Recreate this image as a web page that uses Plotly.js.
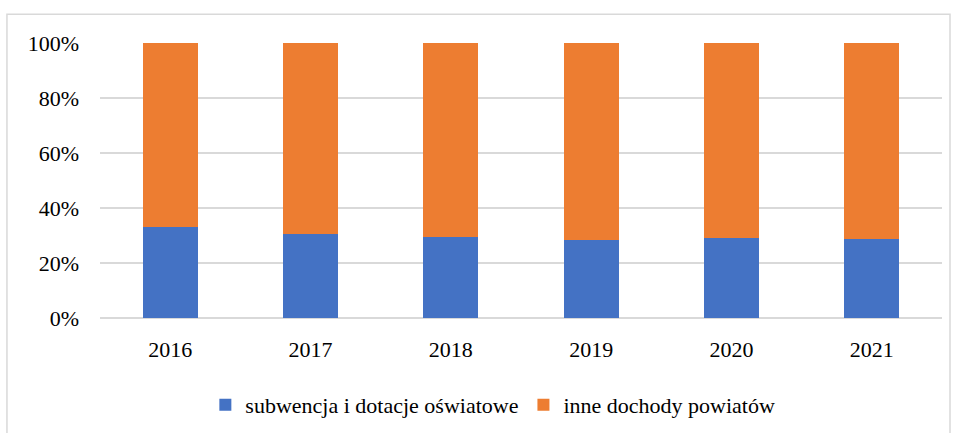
<!DOCTYPE html>
<html>
<head>
<meta charset="utf-8">
<script src="https://cdn.plot.ly/plotly-3.0.1.min.js"></script>
<style>
html,body{margin:0;padding:0;background:#fff;font-family:"Liberation Serif",serif;}
#chart{width:957px;height:433px;}
</style>
</head>
<body>
<div id="chart"></div>
<script>
const years = ["2016", "2017", "2018", "2019", "2020", "2021"];
const subwencja = [33.0, 30.6, 29.6, 28.3, 29.1, 28.8];
const inne = [67.0, 69.4, 70.4, 71.7, 70.9, 71.2];
const seriesNames = ["subwencja i dotacje oświatowe", "inne dochody powiatów"];

const FAMILY = "Liberation Serif";
const traces = [
  {type: "bar", x: years, y: subwencja, name: seriesNames[0], marker: {color: "#4472C4"}, hoverinfo: "skip"},
  {type: "bar", x: years, y: inne, name: seriesNames[1], marker: {color: "#ED7D31"}, hoverinfo: "skip"}
];
const layout = {
  width: 957, height: 433,
  margin: {l: 100, r: 15, t: 43, b: 114.5},
  barmode: "stack",
  bargap: 0.61,
  paper_bgcolor: "#fff", plot_bgcolor: "#fff",
  font: {family: FAMILY, size: 22, color: "#000"},
  showlegend: true,
  legend: {orientation: "h", traceorder: "normal", xref: "container", yref: "container", x: 0.515, xanchor: "center", y: 0.065, yanchor: "middle", font: {family: FAMILY, size: 22, color: "#000"}, itemwidth: 30},
  xaxis: {type: "category", showgrid: false, zeroline: false, showline: false, ticks: "", ticklabelstandoff: 16, automargin: false, tickfont: {family: FAMILY, size: 22, color: "#000"}},
  yaxis: {range: [0, 100], dtick: 20, tick0: 0, ticksuffix: "%", showgrid: true, gridcolor: "#d9d9d9", gridwidth: 1.5, zeroline: true, zerolinecolor: "#d9d9d9", zerolinewidth: 1.5, showline: false, ticks: "", ticklabelstandoff: 20, automargin: false, tickfont: {family: FAMILY, size: 22, color: "#000"}},
  shapes: [{type: "rect", xref: "paper", yref: "paper", x0: -0.1105, x1: 1.0095, y0: -0.6, y1: 1.105, line: {color: "#d9d9d9", width: 1.5}, fillcolor: "rgba(0,0,0,0)", layer: "below"}]
};
function applySerif() {
  document.querySelectorAll("#chart text").forEach(function (t) {
    t.setAttribute("font-family", FAMILY);
    t.style.setProperty("font-family", "'" + FAMILY + "', serif", "important");
  });
}
Plotly.newPlot("chart", traces, layout, {staticPlot: true, displayModeBar: false}).then(function (gd) {
  applySerif();
  gd.on("plotly_afterplot", applySerif);
});
</script>
</body>
</html>
